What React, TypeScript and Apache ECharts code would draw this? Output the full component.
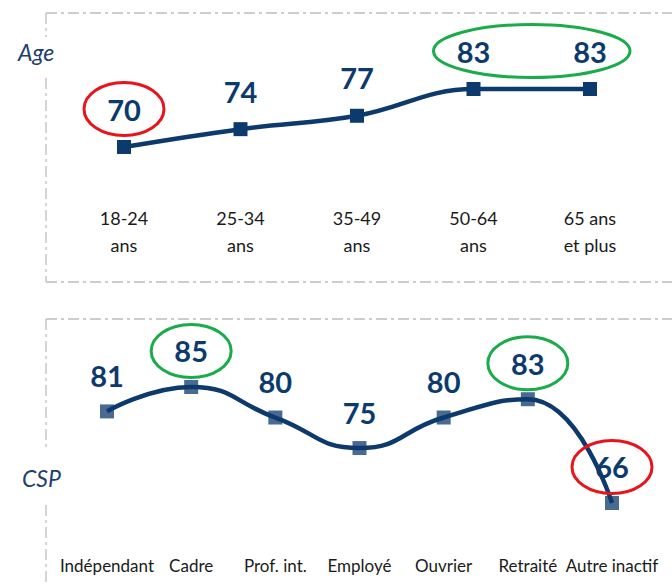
import React, { useEffect, useRef } from "react";
import * as echarts from "echarts";

const ageCategories = ["18-24\nans", "25-34\nans", "35-49\nans", "50-64\nans", "65 ans\net plus"];
const ageValues = [70, 74, 77, 83, 83];
const cspCategories = ["Indépendant", "Cadre", "Prof. int.", "Employé", "Ouvrier", "Retraité", "Autre inactif"];
const cspValues = [81, 85, 80, 75, 80, 83, 66];
// highlighted labels: series index, first and last category index, colour
const highlights = [
  { series: 0, from: 0, to: 0, color: "#e8141b" },
  { series: 0, from: 3, to: 4, color: "#1aab4b" },
  { series: 1, from: 1, to: 1, color: "#1aab4b" },
  { series: 1, from: 5, to: 5, color: "#1aab4b" },
  { series: 1, from: 6, to: 6, color: "#e8141b" },
];

const NAVY = "#0d3a6c";
const FONT = "Lato, 'Open Sans', sans-serif";
const DASH = [11, 4, 3, 4];
const FRAME = "#bdbdbd";

const symSizes = [14, 14];
const markerColors = [NAVY, "rgba(13,58,108,0.75)"];
const labelDist = [16.5, 14.5];
const labelFont = 29;

export default function App() {
  const ref = useRef<HTMLDivElement>(null);
  useEffect(() => {
    document.body.style.margin = "0";
    const chart = echarts.init(ref.current!, null, { renderer: "svg" });
    const seriesBase = (i: number, data: number[], smooth: number) => ({
      type: "line",
      xAxisIndex: i,
      yAxisIndex: i,
      data,
      smooth,
      symbol: "rect",
      symbolSize: symSizes[i],
      lineStyle: { color: NAVY, width: 4.5 },
      itemStyle: { color: markerColors[i] },
      label: {
        show: true,
        position: "top",
        distance: labelDist[i],
        fontSize: labelFont,
        fontWeight: "bold",
        fontFamily: FONT,
        color: NAVY,
      },
    });
    const axisCommon = {
      type: "category",
      boundaryGap: false,
      axisLine: { show: false },
      axisTick: { show: false },
      splitLine: { show: false },
    };
    chart.setOption({
      animation: false,
      grid: [
        { left: 124, width: 466, top: 57.77, height: 133.85 },
        { left: 107, width: 505, top: 356.47, height: 183.16 },
      ],
      xAxis: [
        {
          ...axisCommon,
          gridIndex: 0,
          data: ageCategories,
          axisLabel: { interval: 0, color: "#1a1a1a", fontFamily: FONT, fontSize: 18, lineHeight: 27, margin: 13 },
        },
        {
          ...axisCommon,
          gridIndex: 1,
          data: cspCategories,
          axisLabel: { interval: 0, color: "#1a1a1a", fontFamily: FONT, fontSize: 17, margin: 17 },
        },
      ],
      yAxis: [
        { type: "value", gridIndex: 0, min: 60, max: 90, show: false },
        { type: "value", gridIndex: 1, min: 60, max: 90, show: false },
      ],
      series: [seriesBase(0, ageValues, 0.4), seriesBase(1, cspValues, 0.5)],
    });

    const seriesData = [ageValues, cspValues];
    const ellipses = highlights.map((h) => {
      const vals = seriesData[h.series];
      const p1 = chart.convertToPixel({ seriesIndex: h.series }, [h.from, vals[h.from]]) as number[];
      const p2 = chart.convertToPixel({ seriesIndex: h.series }, [h.to, vals[h.to]]) as number[];
      const off = symSizes[h.series] / 2 + labelDist[h.series] + labelFont / 2;
      const cx = (p1[0] + p2[0]) / 2;
      const cy = Math.min(p1[1], p2[1]) - off;
      const rx = Math.abs(p2[0] - p1[0]) / 2 + 40;
      return {
        type: "ellipse",
        shape: { cx, cy, rx, ry: 26.5 },
        style: { fill: "none", stroke: h.color, lineWidth: 3 },
        z: 10,
      };
    });

    const frameLine = (x1: number, y1: number, x2: number, y2: number) => ({
      type: "line",
      shape: { x1, y1, x2, y2 },
      style: { stroke: FRAME, lineWidth: 1.3, lineDash: DASH },
      silent: true,
    });

    chart.setOption({
      graphic: [
        frameLine(46, 13, 680, 13),
        frameLine(46, 13, 46, 37),
        frameLine(46, 78, 46, 282),
        frameLine(46, 282, 680, 282),
        frameLine(46, 319, 680, 319),
        frameLine(46, 319, 46, 450),
        frameLine(46, 505, 46, 600),
        {
          type: "text",
          left: 18,
          top: 40,
          style: { text: "Age", fontFamily: FONT, fontStyle: "italic", fontSize: 23, fill: "#1f3f6e" },
        },
        {
          type: "text",
          left: 22,
          top: 466,
          style: { text: "CSP", fontFamily: FONT, fontStyle: "italic", fontSize: 23, fill: "#1f3f6e" },
        },
        ...ellipses,
      ],
    });
    return () => chart.dispose();
  }, []);
  return <div ref={ref} style={{ width: 672, height: 584 }} />;
}
